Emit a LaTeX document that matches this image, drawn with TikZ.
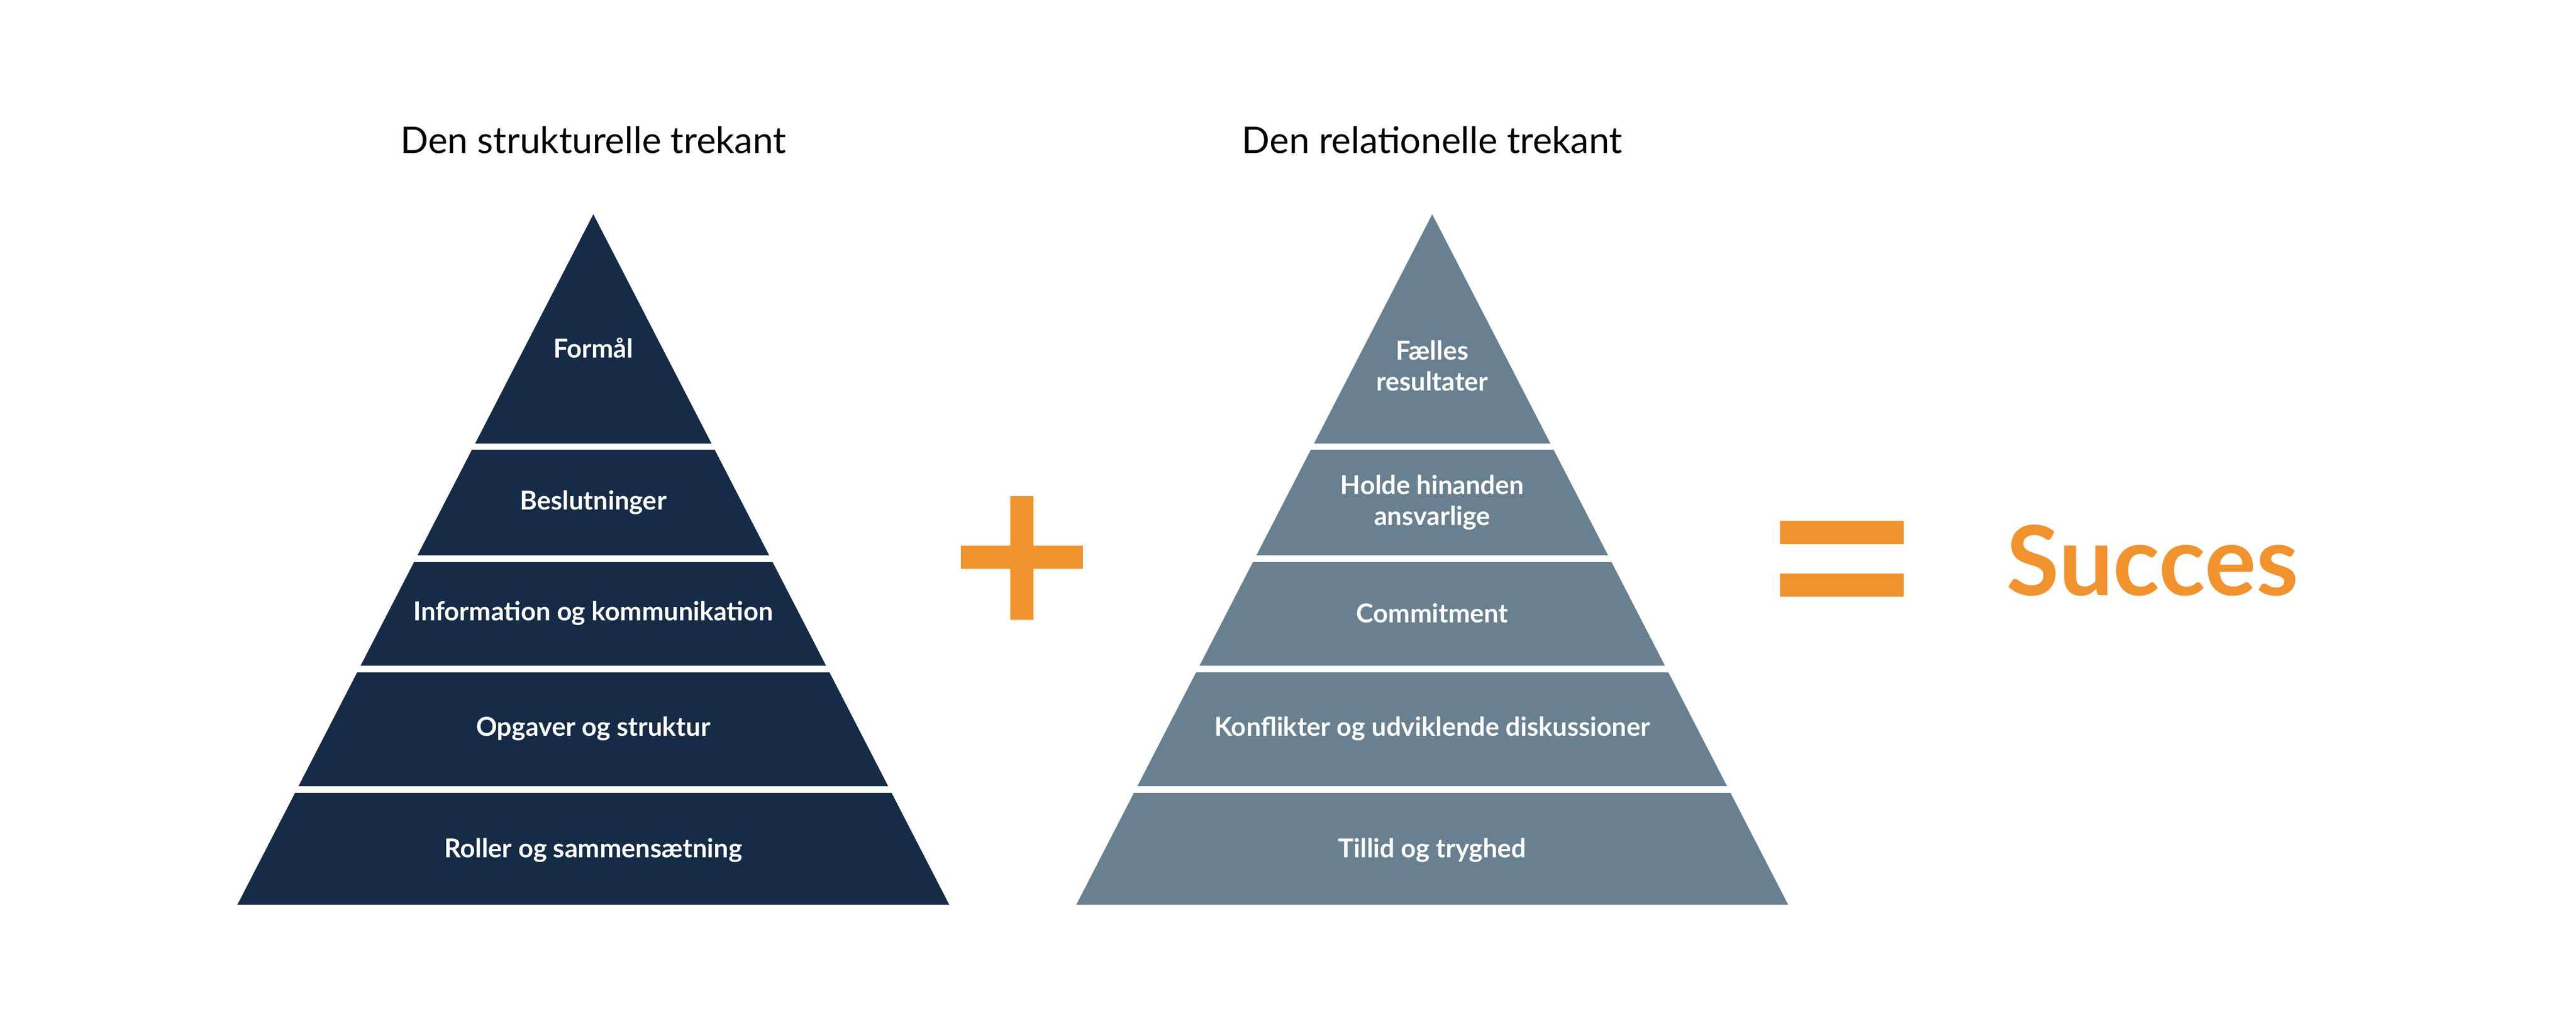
\documentclass[tikz,border=0pt]{standalone}
\usepackage{fontspec}
\setmainfont{Lato}
\definecolor{navy}{HTML}{162B45}
\definecolor{slate}{HTML}{68808F}
\definecolor{succes}{HTML}{F0932F}
\begin{document}
\begin{tikzpicture}[
    x=0.03cm, y=-0.03cm,
    title/.style={font=\fontsize{19}{22}\selectfont},
    level/.style={text=white, font=\fontsize{13.5}{16}\selectfont\bfseries, align=center},
    gap/.style={white, line width=0.12cm},
    bar/.style={succes, line width=0.42cm}
]
\useasboundingbox (0,0) rectangle (1563,626);

% Structural triangle
\fill[navy] (360,130) -- (576,549) -- (144,549) -- cycle;
\foreach \yy in {271,339,406,479}
    \draw[gap] (120,\yy) -- (600,\yy);
\node[title] (t1) at (360,85) {Den strukturelle trekant};
\node[level] (s1) at (360,211) {Formål};
\node[level] (s2) at (360,305) {Beslutninger};
\node[level] (s3) at (360,372) {Information og kommunikation};
\node[level] (s4) at (360,442) {Opgaver og struktur};
\node[level] (s5) at (360,516) {Roller og sammensætning};

% Relational triangle
\fill[slate] (869,130) -- (1085,549) -- (653,549) -- cycle;
\foreach \yy in {271,339,406,479}
    \draw[gap] (630,\yy) -- (1110,\yy);
\node[title] (t2) at (869,85) {Den relationelle trekant};
\node[level] (r1) at (869,222) {Fælles\\resultater};
\node[level] (r2) at (869,305) {Holde hinanden\\ansvarlige};
\node[level] (r3) at (869,372) {Commitment};
\node[level] (r4) at (869,442) {Konflikter og udviklende diskussioner};
\node[level] (r5) at (869,516) {Tillid og tryghed};

% Plus and equals
\draw[bar] (583,338) -- (657,338);
\draw[bar] (620,301) -- (620,376);
\draw[bar] (1080,323) -- (1155,323);
\draw[bar] (1080,355) -- (1155,355);
\node[text=succes, font=\fontsize{50}{56}\selectfont\bfseries] (res) at (1306,340) {Succes};
\end{tikzpicture}
\end{document}
